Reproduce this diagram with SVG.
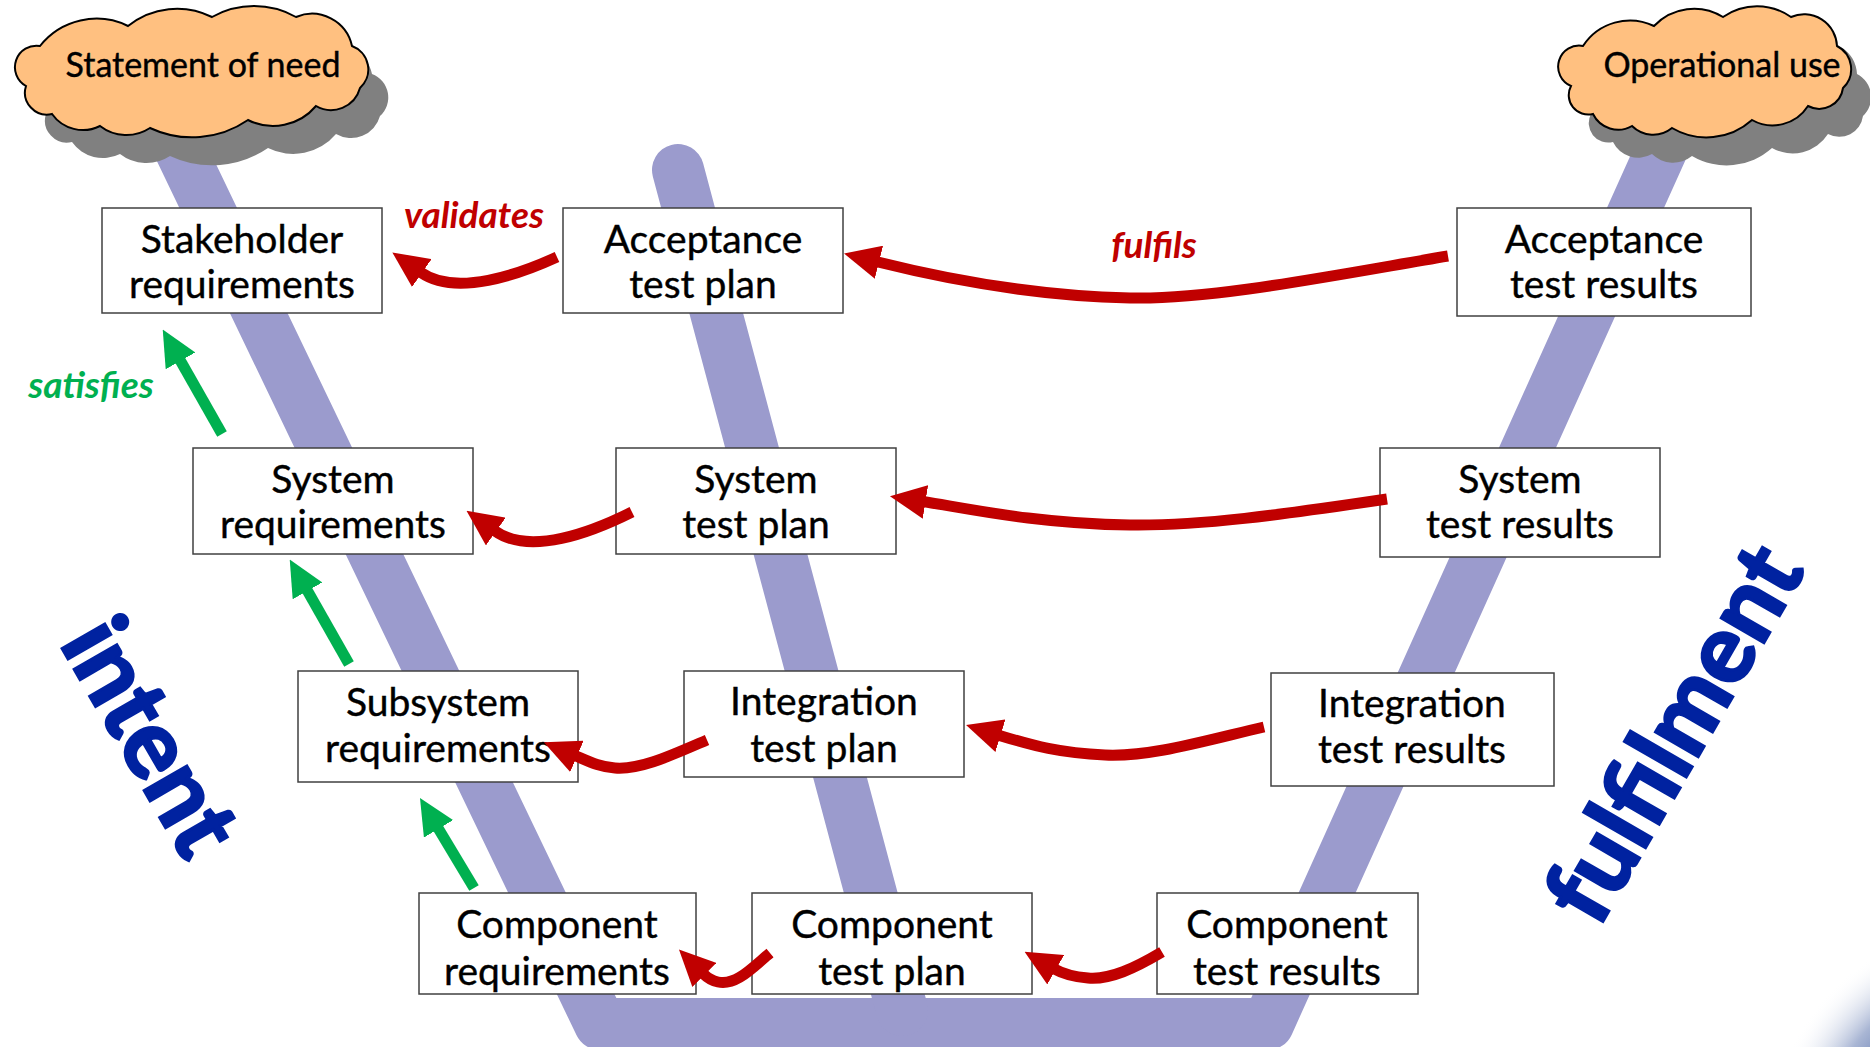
<svg xmlns="http://www.w3.org/2000/svg" width="1870" height="1047" viewBox="0 0 1870 1047">
  <defs>
    <style>
      text { font-family: Lato, "Open Sans", "Liberation Sans", sans-serif; }
      .box rect { fill: #ffffff; stroke: #404040; stroke-width: 1.5; }
      .box text { font-size: 39px; text-anchor: middle; fill: #000000; stroke: #000000; stroke-width: 0.4; }
      .cloud { fill: #ffc080; stroke: #000000; stroke-width: 2; }
      .cloud-shadow { fill: #808080; }
      .cloud-text { font-size: 34px; text-anchor: middle; fill: #000000; stroke: #000000; stroke-width: 0.4; }
      .band { fill: none; stroke: #9b9bcd; stroke-width: 52; }
      .red { fill: none; stroke: #c00000; stroke-width: 11; marker-end: url(#redHead); }
      .green { fill: none; stroke: #00b050; stroke-width: 11; marker-end: url(#greenHead); }
      .lbl { font-size: 37px; font-weight: bold; font-style: italic; text-anchor: middle; }
      .big { font-size: 96px; font-weight: bold; fill: #0022a0; stroke: #0022a0; stroke-width: 3; text-anchor: middle; }
    </style>
    <marker id="redHead" markerUnits="userSpaceOnUse" viewBox="0 0 36 34" markerWidth="36" markerHeight="34" refX="1" refY="17" orient="auto">
      <path d="M0,0 L36,17 L0,34 Z" fill="#c00000"/>
    </marker>
    <marker id="greenHead" markerUnits="userSpaceOnUse" viewBox="0 0 36 34" markerWidth="36" markerHeight="34" refX="1" refY="17" orient="auto">
      <path d="M0,0 L36,17 L0,34 Z" fill="#00b050"/>
    </marker>
    <radialGradient id="cornerGlow" cx="1985" cy="1140" r="215" gradientUnits="userSpaceOnUse">
      <stop offset="0.5" stop-color="#4f6aa8"/>
      <stop offset="0.75" stop-color="#a9b6d4"/>
      <stop offset="1" stop-color="#ffffff" stop-opacity="0"/>
    </radialGradient>
    <path id="cloudLeft" d="M26,86 A21.5,21.5 0 0 1 40,46 A72,72 0 0 1 128,26 A78,78 0 0 1 212,17 A86,86 0 0 1 296,17 A41,41 0 0 1 352,46 A25,25 0 0 1 360,88 A30,30 0 0 1 316,106 A56,56 0 0 1 248,120 A99,99 0 0 1 150,128 A43,43 0 0 1 100,126 A38,38 0 0 1 52,114 A22,22 0 0 1 26,86 Z"/>
    <path id="cloudRight" d="M1571,86 A21,21 0 0 1 1583,46 A56,56 0 0 1 1654,26 A55,55 0 0 1 1723,17 A59,59 0 0 1 1791,17 A33,33 0 0 1 1837,46 A26,26 0 0 1 1843,88 A24,24 0 0 1 1808,106 A42,42 0 0 1 1752,120 A68,68 0 0 1 1672,128 A30,30 0 0 1 1632,126 A28,28 0 0 1 1593,114 A19.5,19.5 0 0 1 1571,86 Z"/>
  </defs>

  <rect width="1870" height="1047" fill="#ffffff"/>
  <circle cx="1985" cy="1140" r="215" fill="url(#cornerGlow)"/>

  <!-- V-shaped development band -->
  <g id="band">
    <polyline class="band" stroke-linejoin="round" points="166,120 600,1024 1268,1024 1675,120"/>
    <line class="band" stroke-linecap="round" x1="678" y1="170" x2="902" y2="1010"/>
  </g>

  <!-- Clouds -->
  <g id="statement-of-need">
    <use href="#cloudLeft" class="cloud-shadow" transform="translate(20,28)"/>
    <use href="#cloudLeft" class="cloud"/>
    <text class="cloud-text" x="203" y="77">Statement of need</text>
  </g>
  <g id="operational-use">
    <use href="#cloudRight" class="cloud-shadow" transform="translate(20,28)"/>
    <use href="#cloudRight" class="cloud"/>
    <text class="cloud-text" x="1722" y="77">Operational use</text>
  </g>

  <!-- Work products -->
  <g id="stakeholder-requirements" class="box">
    <rect x="102" y="208" width="280" height="105"/>
    <text x="242" y="253">Stakeholder</text>
    <text x="242" y="298">requirements</text>
  </g>
  <g id="acceptance-test-plan" class="box">
    <rect x="563" y="208" width="280" height="105"/>
    <text x="703" y="253">Acceptance</text>
    <text x="703" y="298">test plan</text>
  </g>
  <g id="acceptance-test-results" class="box">
    <rect x="1457" y="208" width="294" height="108"/>
    <text x="1604" y="253">Acceptance</text>
    <text x="1604" y="298">test results</text>
  </g>
  <g id="system-requirements" class="box">
    <rect x="193" y="448" width="280" height="106"/>
    <text x="333" y="493">System</text>
    <text x="333" y="538">requirements</text>
  </g>
  <g id="system-test-plan" class="box">
    <rect x="616" y="448" width="280" height="106"/>
    <text x="756" y="493">System</text>
    <text x="756" y="538">test plan</text>
  </g>
  <g id="system-test-results" class="box">
    <rect x="1380" y="448" width="280" height="109"/>
    <text x="1520" y="493">System</text>
    <text x="1520" y="538">test results</text>
  </g>
  <g id="subsystem-requirements" class="box">
    <rect x="298" y="671" width="280" height="111"/>
    <text x="438" y="716">Subsystem</text>
    <text x="438" y="762">requirements</text>
  </g>
  <g id="integration-test-plan" class="box">
    <rect x="684" y="671" width="280" height="106"/>
    <text x="824" y="715">Integration</text>
    <text x="824" y="762">test plan</text>
  </g>
  <g id="integration-test-results" class="box">
    <rect x="1271" y="673" width="283" height="113"/>
    <text x="1412" y="717">Integration</text>
    <text x="1412" y="763">test results</text>
  </g>
  <g id="component-requirements" class="box">
    <rect x="419" y="893" width="277" height="101"/>
    <text x="557" y="938">Component</text>
    <text x="557" y="985">requirements</text>
  </g>
  <g id="component-test-plan" class="box">
    <rect x="752" y="893" width="280" height="101"/>
    <text x="892" y="938">Component</text>
    <text x="892" y="985">test plan</text>
  </g>
  <g id="component-test-results" class="box">
    <rect x="1157" y="893" width="261" height="101"/>
    <text x="1287" y="938">Component</text>
    <text x="1287" y="985">test results</text>
  </g>

  <!-- Traceability connectors -->
  <g id="connectors">
    <path class="red" d="M557,257 C520,274 456,297 421,272.5"/>
    <path class="red" d="M1448,256 C1330,276 1210,300 1130,298 C1040,296 950,280 878,262"/>
    <path class="red" d="M1387,499 C1280,515 1200,526 1130,525 C1040,524 970,509 924.5,501.7"/>
    <path class="red" d="M632,512 C592,532 530,556 495,531"/>
    <path class="red" d="M1264,727 C1200,742 1150,757 1105,755 C1060,753 1034,746 999.5,735.4"/>
    <path class="red" d="M707,740 C670,756 640,770 615,768 C600,767 590,762 576,756"/>
    <path class="red" d="M770,953 C752,968 736,986 718,982 C713,981 708,978.5 703.7,974.2"/>
    <path class="red" d="M1162,952 C1135,968 1110,980 1088,978 C1077,977 1065,975 1054.9,969.2"/>
    <path class="green" d="M222,434 L180,360"/>
    <path class="green" d="M349,664 L307,590"/>
    <path class="green" d="M474,888 L438,828"/>
  </g>

  <!-- Relationship labels -->
  <text class="lbl" x="474" y="228" fill="#c00000">validates</text>
  <text class="lbl" x="1154" y="258" fill="#c00000">fulfils</text>
  <text class="lbl" x="91" y="398" fill="#00b050">satisfies</text>

  <!-- Side captions -->
  <text class="big" transform="translate(122.5,753) rotate(60)">intent</text>
  <text class="big" transform="translate(1702,750) rotate(-60)">fulfilment</text>
</svg>
